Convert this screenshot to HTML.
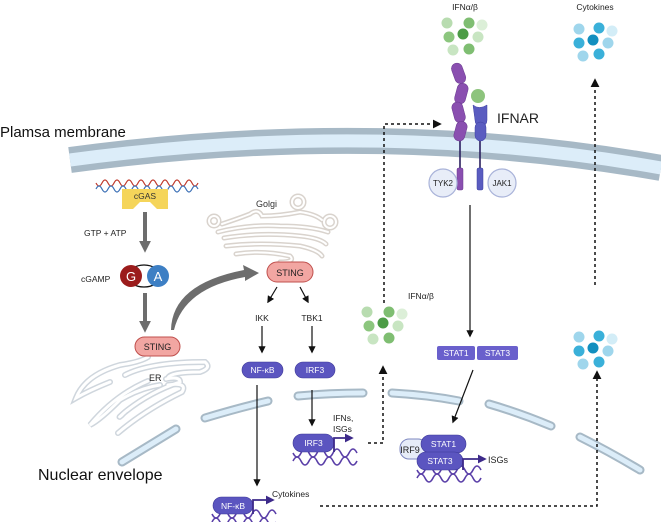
<!DOCTYPE html>
<html><head><meta charset="utf-8"><style>
html,body{margin:0;padding:0;background:#fff;}
svg{display:block;font-family:"Liberation Sans",sans-serif;}
</style></head><body>
<svg width="661" height="522" viewBox="0 0 661 522" xmlns="http://www.w3.org/2000/svg">
<defs>
<marker id="ah" viewBox="0 0 10 10" refX="8" refY="5" markerWidth="6" markerHeight="6" orient="auto"><path d="M0,0L10,5L0,10z" fill="#111"/></marker>
<marker id="ahg" viewBox="0 0 10 10" refX="6" refY="5" markerWidth="3" markerHeight="3" orient="auto"><path d="M0,0L10,5L0,10z" fill="#6d6d6d"/></marker>
<marker id="ahp" viewBox="0 0 10 10" refX="8" refY="5" markerWidth="5" markerHeight="5" orient="auto"><path d="M0,0L10,5L0,10z" fill="#3d2a8a"/></marker>
<g id="dna"><path d="M0,0 q4,8 8,0 t8,0 t8,0 t8,0 t8,0 t8,0 t8,0 t8,0" fill="none" stroke="#5a3fa8" stroke-width="1.6"/><path d="M0,8 q4,-8 8,0 t8,0 t8,0 t8,0 t8,0 t8,0 t8,0 t8,0" fill="none" stroke="#5a3fa8" stroke-width="1.6"/></g>
</defs>

<!-- plasma membrane -->
<path d="M70,160 Q380,118 661,168" fill="none" stroke="#a7b9c6" stroke-width="26"/>
<path d="M70,160 Q380,118 661,168" fill="none" stroke="#dcedf9" stroke-width="13"/>
<text x="0" y="137" font-size="15" fill="#111">Plamsa membrane</text>

<!-- nuclear envelope segments -->
<g fill="none" stroke-linecap="round">
<g stroke="#a7b9c6" stroke-width="9">
<path d="M122,462 L176,429"/><path d="M205,418 Q238,408 268,401"/><path d="M298,396 Q330,393 363,393"/><path d="M392,393 Q428,395 459,401"/><path d="M489,404 Q520,413 551,426"/><path d="M580,437 Q610,452 640,470"/>
</g>
<g stroke="#dcedf9" stroke-width="5">
<path d="M122,462 L176,429"/><path d="M205,418 Q238,408 268,401"/><path d="M298,396 Q330,393 363,393"/><path d="M392,393 Q428,395 459,401"/><path d="M489,404 Q520,413 551,426"/><path d="M580,437 Q610,452 640,470"/>
</g>
</g>
<text x="38" y="480" font-size="16" fill="#111">Nuclear envelope</text>

<!-- ER -->
<g fill="none" stroke-linecap="round">
<g stroke="#cfd6dd" stroke-width="6">
<path d="M148,357 Q140,362 120,365 Q85,375 76,398 Q90,390 110,382"/>
<path d="M125,375 Q150,362 205,362 Q212,368 200,372 Q170,372 168,378"/>
<path d="M148,381 Q115,395 90,425 Q100,420 120,400 Q140,388 160,385"/>
<path d="M166,379 Q180,376 180,382 Q150,392 125,412 Q116,420 122,415"/>
<path d="M168,385 Q188,382 182,392 Q145,410 118,433"/>
</g>
<g stroke="#ffffff" stroke-width="3">
<path d="M148,357 Q140,362 120,365 Q85,375 76,398 Q90,390 110,382"/>
<path d="M125,375 Q150,362 205,362 Q212,368 200,372 Q170,372 168,378"/>
<path d="M148,381 Q115,395 90,425 Q100,420 120,400 Q140,388 160,385"/>
<path d="M166,379 Q180,376 180,382 Q150,392 125,412 Q116,420 122,415"/>
<path d="M168,385 Q188,382 182,392 Q145,410 118,433"/>
</g>
</g>
<text x="149" y="381" font-size="9" fill="#222">ER</text>

<!-- Golgi -->
<g fill="none" stroke-linecap="round">
<g stroke="#d9d3cd" stroke-width="5">
<circle cx="214" cy="221" r="5"/><circle cx="298" cy="202" r="6"/><circle cx="330" cy="222" r="6"/>
<path d="M222,224 Q240,218 250,214 Q258,208 262,216 Q280,216 300,212 Q315,214 322,220"/>
<path d="M218,232 Q250,224 280,226 Q310,226 328,232"/>
<path d="M224,238 Q260,232 300,236 Q320,238 326,244"/>
<path d="M226,246 Q260,242 300,246 Q318,250 322,256"/>
<path d="M236,254 Q262,250 290,256 Q296,262 280,262"/>
</g>
<g stroke="#ffffff" stroke-width="2">
<circle cx="214" cy="221" r="5"/><circle cx="298" cy="202" r="6"/><circle cx="330" cy="222" r="6"/>
<path d="M222,224 Q240,218 250,214 Q258,208 262,216 Q280,216 300,212 Q315,214 322,220"/>
<path d="M218,232 Q250,224 280,226 Q310,226 328,232"/>
<path d="M224,238 Q260,232 300,236 Q320,238 326,244"/>
<path d="M226,246 Q260,242 300,246 Q318,250 322,256"/>
<path d="M236,254 Q262,250 290,256 Q296,262 280,262"/>
</g>
</g>
<text x="256" y="207" font-size="9" fill="#333">Golgi</text>

<!-- cGAS / DNA -->
<path d="M96,183 q3,6 6,0 t6,0 t6,0 t6,0 t6,0 t6,0 t6,0 t6,0 t6,0 t6,0 t6,0 t6,0 t6,0 t6,0 t6,0 t6,0 t6,0" fill="none" stroke="#c0392b" stroke-width="1.2"/>
<path d="M96,189 q3,-6 6,0 t6,0 t6,0 t6,0 t6,0 t6,0 t6,0 t6,0 t6,0 t6,0 t6,0 t6,0 t6,0 t6,0 t6,0 t6,0 t6,0" fill="none" stroke="#3a6fb5" stroke-width="1.2"/>
<path d="M122,189 L168,189 L168,209 L157,209 L150,202 L140,202 L133,209 L122,209 Z" fill="#f5d55a"/>
<text x="145" y="199" font-size="8.5" text-anchor="middle" fill="#333">cGAS</text>
<text x="84" y="236" font-size="8.5" fill="#222">GTP + ATP</text>
<line x1="145" y1="212" x2="145" y2="248" stroke="#6d6d6d" stroke-width="4" marker-end="url(#ahg)"/>
<text x="81" y="282" font-size="8.5" fill="#222">cGAMP</text>
<ellipse cx="144" cy="276" rx="16" ry="11" fill="none" stroke="#111" stroke-width="1.3"/>
<circle cx="131" cy="276" r="11" fill="#9b1c1c"/><text x="131" y="281" font-size="13" fill="#fff" text-anchor="middle">G</text>
<circle cx="158" cy="276" r="11" fill="#3d7fc4"/><text x="158" y="281" font-size="13" fill="#fff" text-anchor="middle">A</text>
<line x1="145" y1="293" x2="145" y2="328" stroke="#6d6d6d" stroke-width="4" marker-end="url(#ahg)"/>
<rect x="135" y="337" width="45" height="19" rx="9.5" fill="#f2a6a2" stroke="#c0504d"/>
<text x="157.5" y="350" font-size="9" text-anchor="middle" fill="#222">STING</text>
<path d="M171,330 Q172,284 244,270 L243,265 L259,273 L245,281 L245,277 Q184,288 174,330 Z" fill="#6d6d6d"/>
<rect x="267" y="262" width="46" height="20" rx="10" fill="#f2a6a2" stroke="#c0504d"/>
<text x="290" y="276" font-size="9" text-anchor="middle" fill="#222">STING</text>

<g stroke="#111" stroke-width="1.2" fill="none" marker-end="url(#ah)">
<line x1="277" y1="287" x2="268" y2="302"/><line x1="300" y1="287" x2="308" y2="302"/>
<line x1="262" y1="326" x2="262" y2="352"/><line x1="312" y1="326" x2="312" y2="352"/>
<line x1="312" y1="390" x2="312" y2="425"/><line x1="257" y1="385" x2="257" y2="485"/>
<line x1="470" y1="205" x2="470" y2="336"/><line x1="473" y1="370" x2="453" y2="422"/>
</g>
<text x="262" y="321" font-size="8.5" text-anchor="middle" fill="#222">IKK</text>
<text x="312" y="321" font-size="8.5" text-anchor="middle" fill="#222">TBK1</text>

<g font-size="8.5" fill="#fff" text-anchor="middle">
<rect x="242" y="362" width="41" height="16" rx="8" fill="#5b55c0" stroke="#3d3898" stroke-width=".6"/><text x="262.5" y="373">NF-κB</text>
<rect x="295" y="362" width="40" height="16" rx="8" fill="#5b55c0" stroke="#3d3898" stroke-width=".6"/><text x="315" y="373">IRF3</text>
<rect x="437" y="346" width="38" height="14" rx="2" fill="#6a60cc"/><text x="456" y="356">STAT1</text>
<rect x="477" y="346" width="41" height="14" rx="2" fill="#6a60cc"/><text x="497.5" y="356">STAT3</text>
</g>

<!-- IRF3 nucleus -->
<use href="#dna" x="293" y="453"/>
<rect x="293" y="434" width="41" height="18" rx="9" fill="#5b55c0" stroke="#3d3898" stroke-width=".6"/>
<text x="313.5" y="446" font-size="8.5" fill="#fff" text-anchor="middle">IRF3</text>
<path d="M334,452 V438 H352" fill="none" stroke="#3d2a8a" stroke-width="1.8" marker-end="url(#ahp)"/>
<text x="333" y="421" font-size="8.5" fill="#222">IFNs,</text><text x="333" y="432" font-size="8.5" fill="#222">ISGs</text>

<!-- STAT complex -->
<use href="#dna" x="417" y="470"/>
<rect x="400" y="439" width="27" height="20" rx="9" fill="#e6ecf8" stroke="#7d87c0"/>
<text x="410" y="453" font-size="9" fill="#222" text-anchor="middle">IRF9</text>
<rect x="421" y="435" width="45" height="18" rx="9" fill="#5b55c0" stroke="#3d3898" stroke-width=".6"/>
<text x="443.5" y="447" font-size="8.5" fill="#fff" text-anchor="middle">STAT1</text>
<rect x="417" y="452" width="46" height="18" rx="9" fill="#5b55c0" stroke="#3d3898" stroke-width=".6"/>
<text x="440" y="464" font-size="8.5" fill="#fff" text-anchor="middle">STAT3</text>
<path d="M463,470 V459 H485" fill="none" stroke="#3d2a8a" stroke-width="1.8" marker-end="url(#ahp)"/>
<text x="488" y="463" font-size="9" fill="#222">ISGs</text>

<!-- NF-kB nucleus -->
<use href="#dna" x="212" y="514"/>
<rect x="213" y="497" width="40" height="17" rx="8.5" fill="#5b55c0" stroke="#3d3898" stroke-width=".6"/>
<text x="233" y="509" font-size="8.5" fill="#fff" text-anchor="middle">NF-κB</text>
<path d="M253,514 V500 H273" fill="none" stroke="#3d2a8a" stroke-width="1.8" marker-end="url(#ahp)"/>
<text x="272" y="497" font-size="8.5" fill="#222">Cytokines</text>

<!-- dotted -->
<g fill="none" stroke="#111" stroke-width="1.5" stroke-dasharray="3,3">
<path d="M368,443 H383 V367" marker-end="url(#ah)"/>
<path d="M384,303 V124 H440" marker-end="url(#ah)"/>
<path d="M320,506 H597 V372" marker-end="url(#ah)"/>
<path d="M595,285 V80" marker-end="url(#ah)"/>
</g>

<!-- receptors -->
<line x1="460" y1="138" x2="460" y2="170" stroke="#2a1f5e" stroke-width="1.6"/>
<line x1="480" y1="138" x2="480" y2="170" stroke="#2a1f5e" stroke-width="1.6"/>
<g fill="#8a4fb0" stroke="#6a3a90" stroke-width=".5">
<rect x="453" y="63" width="11" height="21" rx="5.5" transform="rotate(-20 458 73)"/>
<rect x="456" y="83" width="11" height="21" rx="5.5" transform="rotate(15 461 93)"/>
<rect x="453" y="102" width="11" height="21" rx="5.5" transform="rotate(-15 458 112)"/>
<rect x="455" y="121" width="11" height="20" rx="5.5" transform="rotate(15 460 131)"/>
<rect x="457" y="168" width="6" height="22" rx="1.5"/>
</g>
<g fill="#5a5cc0" stroke="#3e40a0" stroke-width=".5">
<path d="M473,105 Q479,110 487,105 L487,120 Q487,126 481,126 Q475,126 475,120 Z"/>
<rect x="475" y="122" width="11" height="19" rx="5.5"/>
<rect x="477" y="168" width="6" height="22" rx="1.5"/>
</g>
<circle cx="478" cy="96" r="7" fill="#8dc47d"/>
<text x="497" y="123" font-size="14" fill="#222">IFNAR</text>
<circle cx="443" cy="183" r="14" fill="#e8edf8" stroke="#a9b3d9" stroke-width="1.2"/>
<text x="443" y="186" font-size="8" text-anchor="middle" fill="#222">TYK2</text>
<circle cx="502" cy="183" r="14" fill="#e8edf8" stroke="#a9b3d9" stroke-width="1.2"/>
<text x="502" y="186" font-size="8" text-anchor="middle" fill="#222">JAK1</text>

<!-- clusters -->
<g id="ifn">
<circle cx="447" cy="23" r="5.5" fill="#b8dcb0"/><circle cx="469" cy="23" r="5.5" fill="#7fbe72"/><circle cx="482" cy="25" r="5.5" fill="#dcefd8"/>
<circle cx="449" cy="37" r="5.5" fill="#8cc67e"/><circle cx="463" cy="34" r="5.5" fill="#4c9c46"/><circle cx="478" cy="37" r="5.5" fill="#c8e5c2"/>
<circle cx="453" cy="50" r="5.5" fill="#c8e5c2"/><circle cx="469" cy="49" r="5.5" fill="#7fbe72"/>
</g>
<use href="#ifn" x="-80" y="289"/>
<g id="cyt">
<circle cx="579" cy="29" r="5.5" fill="#9fd6ec"/><circle cx="599" cy="28" r="5.5" fill="#3ab0d9"/><circle cx="612" cy="31" r="5.5" fill="#d3edf7"/>
<circle cx="579" cy="43" r="5.5" fill="#3ab0d9"/><circle cx="593" cy="40" r="5.5" fill="#128fbf"/><circle cx="608" cy="43" r="5.5" fill="#9fd6ec"/>
<circle cx="583" cy="56" r="5.5" fill="#9fd6ec"/><circle cx="599" cy="54" r="5.5" fill="#3ab0d9"/>
</g>
<use href="#cyt" x="0" y="308"/>
<text x="465" y="10" font-size="8.5" text-anchor="middle" fill="#222">IFNα/β</text>
<text x="595" y="10" font-size="8.5" text-anchor="middle" fill="#222">Cytokines</text>
<text x="408" y="299" font-size="8.5" fill="#222">IFNα/β</text>
</svg>
</body></html>
